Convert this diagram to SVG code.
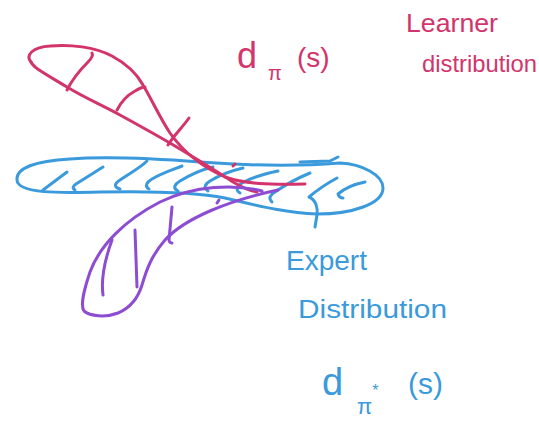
<svg xmlns="http://www.w3.org/2000/svg" width="539" height="428" viewBox="0 0 539 428">
<style>
.s{fill:none;stroke-width:3;stroke-linecap:round;stroke-linejoin:round}
.red{stroke:#D2346B}
.blue{stroke:#3A9ADB}
.pur{stroke:#8C4DD3}
.t{font-family:"Liberation Sans","DejaVu Sans",sans-serif}
.tr{fill:#D2346B}
.tb{fill:#3A9ADB}
</style>
<rect width="539" height="428" fill="#ffffff"/>
<g id="expert-shape">
<path class="s blue" d="M 17,180 C 16,168 35,161 70,159 C 110,156 160,159 200,162 C 240,165 290,167 340,163 C 362,164 383,175 383,188 C 383,204 352,214 317,214 C 285,213 255,205 225,198 C 200,193 150,191 100,192 C 60,193 18,194 17,180 Z"/>
<path class="s blue" d="M 300,162 L 330,161 L 338,157"/>
<path class="s blue" d="M 337,178 C 326,184 316,191 309,197 C 316,200 318,208 317,215 L 315,227"/>
<path class="s blue" d="M 365,182 C 355,184 345,188 338,194 C 339,197 341,198 343,198"/>
<path class="s blue" d="M 43,190 L 67,172"/>
<path class="s blue" d="M 75,190 C 72,188 73,186 76,184 L 103,167"/>
<path class="s blue" d="M 120,189 C 113,187 115,183 120,180 C 130,173 140,168 147,161"/>
<path class="s blue" d="M 149,189 C 144,186 147,182 152,179 C 162,173 172,170 182,166"/>
<path class="s blue" d="M 178,191 C 172,188 175,184 180,181 C 190,175 200,170 213,167"/>
<path class="s blue" d="M 208,191 C 203,188 205,184 210,181 C 220,175 230,171 243,168"/>
<path class="s blue" d="M 240,193 C 235,190 237,186 242,183 C 252,177 264,174 278,171"/>
<path class="s blue" d="M 272,202 C 268,198 270,195 275,192 C 285,185 298,178 310,173"/>
</g>
<g id="learner-shape">
<path class="s red" d="M 31,62 C 25,55 33,47 50,46 C 70,44 95,47 112,56 C 125,63 137,74 143,85 C 152,100 160,118 170,133 C 182,150 200,166 225,177 C 245,184 270,185 305,184"/>
<path class="s red" d="M 31,62 C 34,68 42,72 67,87 C 85,98 100,104 120,115 C 140,126 160,137 175,146 C 195,158 215,170 233,182 C 243,188 250,191 257,192"/>
<path class="s red" d="M 67,90 C 72,80 80,70 88,62 C 92,58 93,55 92,53"/>
<path class="s red" d="M 117,110 C 120,104 126,96 135,91 C 140,88 143,87 145,87"/>
<path class="s red" d="M 168,145 C 174,135 182,128 189,118"/>
<path class="s red" d="M 233,166 L 235,164"/>
</g>
<g id="policy-shape">
<path class="s pur" d="M 262,191 C 235,184 195,185 160,202 C 125,220 100,245 90,272 C 84,290 80,305 84,311 C 90,316 105,318 118,313 C 130,308 138,298 142,285 C 147,268 152,255 165,240 C 185,218 230,200 278,190"/>
<path class="s pur" d="M 172,207 L 169,240 C 169,242 171,243 172,243"/>
<path class="s pur" d="M 135,230 L 137,287"/>
<path class="s pur" d="M 112,240 C 104,262 101,280 103,295"/>
<path class="s pur" d="M 217,203 L 219,200"/>
</g>
<g id="labels">
<text class="t tr" x="237" y="68" font-size="36">d</text>
<text class="t tr" x="268" y="80" font-size="20">π</text>
<text class="t tr" x="297" y="67" font-size="28">(s)</text>
<text class="t tr" x="406" y="32" font-size="26" textLength="92" lengthAdjust="spacingAndGlyphs">Learner</text>
<text class="t tr" x="422" y="72" font-size="24" textLength="115" lengthAdjust="spacingAndGlyphs">distribution</text>
<text class="t tb" x="286" y="270" font-size="28" textLength="81" lengthAdjust="spacingAndGlyphs">Expert</text>
<text class="t tb" x="298" y="318" font-size="26" textLength="149" lengthAdjust="spacingAndGlyphs">Distribution</text>
<text class="t tb" x="322" y="395" font-size="38">d</text>
<text class="t tb" x="357" y="414" font-size="22">π<tspan dy="-18" font-size="16">*</tspan></text>
<text class="t tb" x="408" y="394" font-size="30">(s)</text>
</g>
</svg>
